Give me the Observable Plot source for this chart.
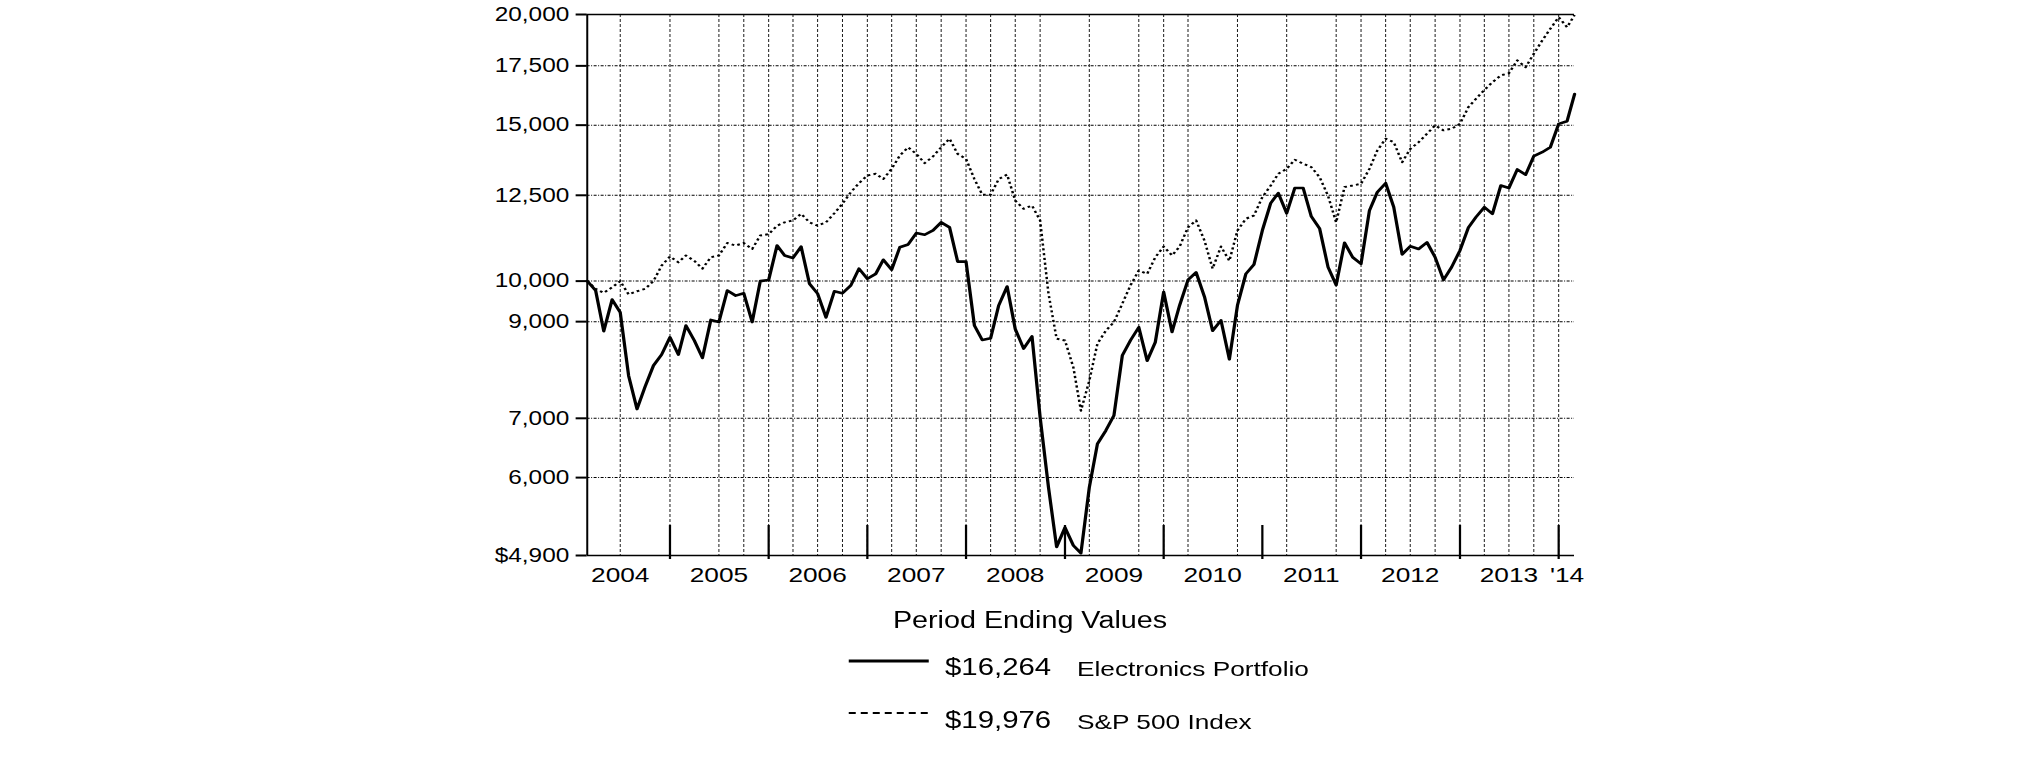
<!DOCTYPE html>
<html>
<head>
<meta charset="utf-8">
<script src="https://cdn.jsdelivr.net/npm/d3@7"></script>
<script src="https://cdn.jsdelivr.net/npm/@observablehq/plot@0.6"></script>
<style>
  html, body { margin: 0; padding: 0; background: #fff; }
  #wrap { position: relative; width: 1620px; height: 761px; transform: scaleX(1.25); transform-origin: 0 0;
          font-family: "Liberation Sans", Arial, sans-serif; color: #000; }
  #legend { position: absolute; left: 0; top: 600px; }
</style>
</head>
<body>
<div id="wrap"><div id="chart"></div><svg id="legend" width="1620" height="161"></svg></div>
<script>
// Monthly period-ending values, Feb 2004 .. Feb 2014 (hypothetical $10,000 investment)
const electronics = [
  10000, 9760, 8780, 9530, 9220, 7820, 7170, 7600, 8030, 8260, 8640, 8260,
  8910, 8570, 8190, 9040, 8990, 9760, 9630, 9690, 8990, 10000, 10030, 10970,
  10690, 10620, 10940, 9930, 9680, 9100, 9740, 9690, 9890, 10330, 10060, 10190,
  10570, 10300, 10920, 11000, 11330, 11280, 11410, 11650, 11500, 10520, 10520, 8910,
  8580, 8620, 9390, 9860, 8830, 8390, 8660, 7020, 5850, 5010, 5270, 5030,
  4930, 5850, 6550, 6780, 7050, 8240, 8580, 8870, 8130, 8530, 9720, 8760,
  9390, 10030, 10230, 9600, 8790, 9030, 8160, 9390, 10190, 10440, 11410, 12250,
  12570, 11930, 12740, 12740, 11830, 11460, 10370, 9900, 11050, 10640, 10460, 12010,
  12600, 12900, 12120, 10720, 10950, 10870, 11060, 10640, 10030, 10370, 10830, 11490,
  11810, 12120, 11910, 12820, 12740, 13370, 13190, 13840, 13980, 14160, 15050, 15150,
  16264
];
const sp500 = [
  10000, 9800, 9700, 9840, 10000, 9660, 9740, 9800, 10000, 10410, 10660, 10500,
  10690, 10540, 10330, 10640, 10690, 11040, 10970, 11040, 10870, 11260, 11300, 11550,
  11650, 11710, 11910, 11650, 11550, 11650, 11930, 12230, 12600, 12900, 13160, 13220,
  13040, 13390, 13860, 14160, 13920, 13590, 13830, 14160, 14480, 13920, 13740, 13040,
  12520, 12520, 13040, 13190, 12330, 12070, 12170, 11710, 9680, 8610, 8570, 7990,
  7140, 7720, 8500, 8790, 8990, 9430, 9900, 10280, 10190, 10640, 10940, 10690,
  10940, 11500, 11710, 11110, 10330, 10940, 10540, 11410, 11760, 11860, 12440, 12820,
  13220, 13390, 13710, 13570, 13450, 13100, 12480, 11650, 12770, 12820, 12880, 13390,
  14040, 14480, 14350, 13620, 14100, 14350, 14670, 14990, 14800, 14860, 15050, 15720,
  16060, 16440, 16770, 17070, 17170, 17750, 17440, 18060, 18690, 19270, 19860, 19350,
  19976
];
const seriesNames = ["Electronics Portfolio", "S&P 500 Index"];
const legendTitle = "Period Ending Values";

// Axis ticks and labels
const yTicks = [4900, 6000, 7000, 9000, 10000, 12500, 15000, 17500, 20000];
const yTickLabels = ["$4,900", "6,000", "7,000", "9,000", "10,000", "12,500", "15,000", "17,500", "20,000"];
const yGrid = [6000, 7000, 9000, 10000, 12500, 15000, 17500];
const xLabelDates = ["2004-07-01", "2005-07-01", "2006-07-01", "2007-07-01", "2008-07-01",
  "2009-07-01", "2010-07-01", "2011-07-01", "2012-07-01", "2013-07-01", "2014-02-01"];
const xTickLabels = ["2004", "2005", "2006", "2007", "2008", "2009", "2010", "2011", "2012", "2013", "'14"];
const yearBoundaries = ["2005-01-01", "2006-01-01", "2007-01-01", "2008-01-01", "2009-01-01",
  "2010-01-01", "2011-01-01", "2012-01-01", "2013-01-01", "2014-01-01"];
const xGrid = ["2004-07-01", "2005-01-01", "2005-07-01", "2005-10-01", "2006-01-01", "2006-04-01",
  "2006-07-01", "2006-10-01", "2007-01-01", "2007-04-01", "2007-07-01", "2007-10-01", "2008-01-01",
  "2008-04-01", "2008-07-01", "2008-10-01", "2009-04-01", "2009-10-01", "2010-01-01", "2010-04-01",
  "2010-10-01", "2011-04-01", "2011-10-01", "2012-01-01", "2012-04-01", "2012-07-01", "2012-10-01",
  "2013-01-01", "2013-04-01", "2013-07-01", "2013-10-01", "2014-01-01"];

const toDate = s => new Date(s + "T00:00:00Z");
// each value is the end of a month: Feb 2004 -> boundary 2004-03-01
const dates = electronics.map((_, i) => new Date(Date.UTC(2004, 2 + i, 1)));
const data = dates.map((date, i) => ({date, electronics: electronics[i], sp500: sp500[i]}));

const yLabelMap = new Map(yTicks.map((v, i) => [v, yTickLabels[i]]));
const xLabelDateObjs = xLabelDates.map(toDate);
const xLabelMap = new Map(xLabelDateObjs.map((d, i) => [+d, xTickLabels[i]]));

const chart = Plot.plot({
  width: 1620,
  height: 600,
  marginLeft: 469.3,
  marginRight: 360.8,
  marginTop: 14,
  marginBottom: 45,
  style: {fontFamily: "'Liberation Sans', Arial, sans-serif", fontSize: "20px", color: "#000", background: "#fff", overflow: "visible"},
  x: {type: "utc", domain: [dates[0], dates[dates.length - 1]]},
  y: {type: "log", domain: [4900, 20000]},
  marks: [
    Plot.ruleY(yGrid, {stroke: "#000", strokeWidth: 1, strokeDasharray: "2.4,1.2,0.8,1.2"}),
    Plot.ruleX(xGrid.map(toDate), {stroke: "#000", strokeWidth: 0.8, strokeDasharray: "3,2"}),
    Plot.ruleY([yTicks[yTicks.length - 1], yTicks[0]], {stroke: "#000", strokeWidth: 1.6}),
    Plot.ruleX([dates[0]], {stroke: "#000", strokeWidth: 1.6}),
    Plot.tickX(yearBoundaries.map(toDate), {stroke: "#000", strokeWidth: 1.8, insetTop: 511, insetBottom: -4}),
    Plot.line(data, {x: "date", y: "sp500", stroke: "#000", strokeWidth: 2, strokeDasharray: "2.2,2.6", strokeLinecap: "butt"}),
    Plot.line(data, {x: "date", y: "electronics", stroke: "#000", strokeWidth: 2.6}),
    Plot.axisY(yTicks, {tickSize: 8.8, tickPadding: 5.6, strokeWidth: 2, fontSize: 19.5, tickFormat: d => yLabelMap.get(d), label: null}),
    Plot.axisX(xLabelDateObjs, {tickSize: 0, tickPadding: 11.5, fontSize: 21, tickFormat: d => xLabelMap.get(+d), label: null})
  ]
});
document.getElementById("chart").appendChild(chart);

// Legend below the chart
const fmt = v => "$" + d3.format(",")(v);
const lg = d3.select("#legend").style("font-family", "'Liberation Sans', Arial, sans-serif");
lg.append("text").attr("x", 824).attr("y", 28).attr("text-anchor", "middle").attr("font-size", 23).text(legendTitle);
const rows = [
  {value: electronics[electronics.length - 1], name: seriesNames[0], dash: null, w: 3, ly: 61, ty: 75},
  {value: sp500[sp500.length - 1], name: seriesNames[1], dash: "5.6,4", w: 2, ly: 113, ty: 128}
];
rows.forEach(r => {
  lg.append("line").attr("x1", 679).attr("x2", 743).attr("y1", r.ly).attr("y2", r.ly)
    .attr("stroke", "#000").attr("stroke-width", r.w).attr("stroke-dasharray", r.dash);
  lg.append("text").attr("x", 756).attr("y", r.ty).attr("font-size", 23.5).text(fmt(r.value));
  lg.append("text").attr("x", 861.6).attr("y", r.ty + 1.5).attr("font-size", 21).text(r.name);
});
</script>
</body>
</html>
